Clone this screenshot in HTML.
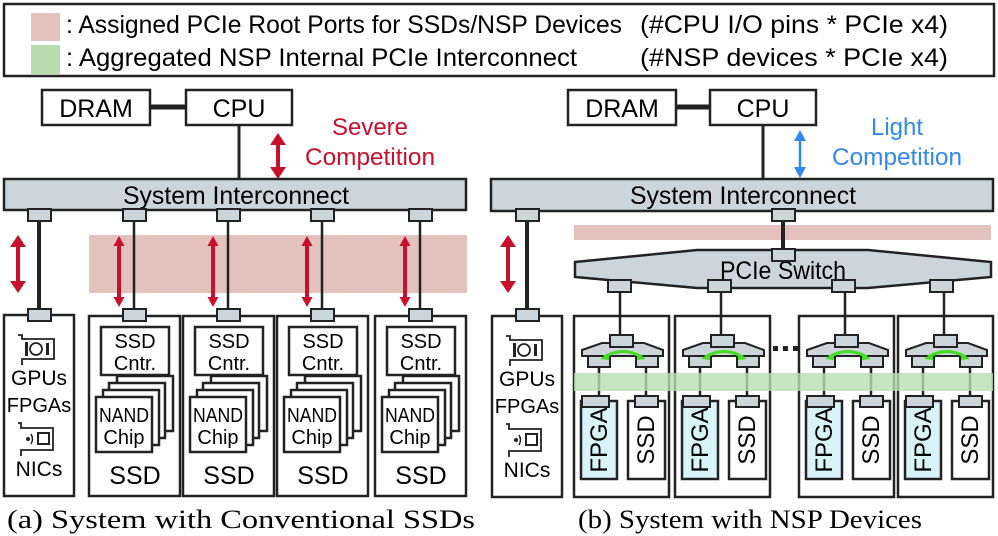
<!DOCTYPE html>
<html><head><meta charset="utf-8"><style>
html,body{margin:0;padding:0;background:#fff}
svg{display:block}
text{font-family:"Liberation Sans",sans-serif}
</style></head><body>
<svg width="998" height="536" viewBox="0 0 998 536" xmlns="http://www.w3.org/2000/svg">
<defs>
<g id="port"><rect x="0" y="0" width="23" height="12" fill="#ccd5da" stroke="#222" stroke-width="2"/></g>
<g id="ssd">
  <rect x="0" y="0" width="91" height="180" fill="#fff" stroke="#222" stroke-width="2.5"/>
  <rect x="12" y="11" width="68" height="48" fill="#fff" stroke="#222" stroke-width="2.5"/>
  <text x="46" y="32" font-size="20" text-anchor="middle">SSD</text>
  <text x="46" y="54" font-size="20" text-anchor="middle">Cntr.</text>
  <rect x="28" y="60" width="56" height="55" fill="#fff" stroke="#222" stroke-width="2.5"/>
  <rect x="20" y="67" width="56" height="55" fill="#fff" stroke="#222" stroke-width="2.5"/>
  <rect x="14" y="74" width="56" height="55" fill="#fff" stroke="#222" stroke-width="2.5"/>
  <rect x="7" y="81" width="56" height="55" fill="#fff" stroke="#222" stroke-width="2.5"/>
  <text x="35" y="106" font-size="20" text-anchor="middle" textLength="50" lengthAdjust="spacingAndGlyphs">NAND</text>
  <text x="35" y="128" font-size="20" text-anchor="middle">Chip</text>
  <text x="46" y="168" font-size="25" text-anchor="middle">SSD</text>
</g>
<g id="nsp">
  <rect x="0" y="0" width="95" height="181" fill="#fff" stroke="#222" stroke-width="2.5"/>
  <line x1="46" y1="-30" x2="46" y2="20" stroke="#222" stroke-width="2.5"/>
  <polygon points="8,34 28,27 70,27 89,34 89,40 8,40" fill="#ccd5da" stroke="#222" stroke-width="2"/>
  <rect x="36" y="19" width="23" height="12" fill="#ccd5da" stroke="#222" stroke-width="2"/>
  <line x1="25" y1="50" x2="25" y2="82" stroke="#222" stroke-width="2.5"/>
  <line x1="72" y1="50" x2="72" y2="82" stroke="#222" stroke-width="2.5"/>
  <rect x="14" y="40" width="22" height="11" fill="#ccd5da" stroke="#222" stroke-width="2"/>
  <rect x="62" y="40" width="22" height="11" fill="#ccd5da" stroke="#222" stroke-width="2"/>
  <path d="M30 41 Q49 30 68 41" fill="none" stroke="#44dd22" stroke-width="3"/>
  <polygon points="26,43 35,37 35,44" fill="#44dd22"/>
  <polygon points="72,43 63,37 63,44" fill="#44dd22"/>
  <rect x="7" y="85" width="36" height="78" fill="#d8f4f8" stroke="#222" stroke-width="2.5"/>
  <rect x="54" y="85" width="37" height="78" fill="#fff" stroke="#222" stroke-width="2.5"/>
  <rect x="8" y="80" width="27" height="11" fill="#ccd5da" stroke="#222" stroke-width="2"/>
  <rect x="61" y="80" width="23" height="11" fill="#ccd5da" stroke="#222" stroke-width="2"/>
  <text transform="translate(33,124) rotate(-90)" font-size="24" text-anchor="middle">FPGA</text>
  <text transform="translate(80,124) rotate(-90)" font-size="24" text-anchor="middle">SSD</text>
</g>
<g id="host">
  <rect x="0" y="0" width="70" height="181" fill="#fff" stroke="#222" stroke-width="2.5"/>
  <path d="M14 20 h4 v4 h32 v20 h-32 v6" fill="none" stroke="#222" stroke-width="1.8"/>
  <circle cx="32" cy="34" r="6" fill="none" stroke="#222" stroke-width="1.8"/>
  <rect x="21" y="27" width="3" height="14" fill="#222"/>
  <rect x="42" y="28" width="3" height="12" fill="#222"/>
  <text x="35" y="70" font-size="21" text-anchor="middle">GPUs</text>
  <text x="35" y="97" font-size="20" text-anchor="middle">FPGAs</text>
  <path d="M14 108 h3 v5 h32 v22 h-32 v6" fill="none" stroke="#222" stroke-width="1.8"/>
  <rect x="34" y="118" width="11" height="11" fill="none" stroke="#222" stroke-width="2"/>
  <circle cx="24" cy="124" r="2" fill="#222"/>
  <path d="M27 119 q3 5 0 10" fill="none" stroke="#222" stroke-width="1.5"/>
  <text x="35" y="161" font-size="21" text-anchor="middle">NICs</text>
</g>
</defs>

<rect x="4" y="4" width="990" height="72" fill="#fff" stroke="#222" stroke-width="2.5"/>
<rect x="31" y="13" width="29" height="28" fill="#e3c1bc"/>
<rect x="31" y="45" width="29" height="29" fill="#b9ddb0"/>
<text x="66" y="33" font-size="25" textLength="556" lengthAdjust="spacingAndGlyphs">: Assigned PCIe Root Ports for SSDs/NSP Devices</text>
<text x="640" y="33" font-size="25" textLength="308" lengthAdjust="spacingAndGlyphs">(#CPU I/O pins * PCIe x4)</text>
<text x="66" y="66" font-size="25" textLength="511" lengthAdjust="spacingAndGlyphs">: Aggregated NSP Internal PCIe Interconnect</text>
<text x="640" y="66" font-size="25" textLength="308" lengthAdjust="spacingAndGlyphs">(#NSP devices  * PCIe x4)</text>

<rect x="89" y="235" width="378" height="58" fill="#e3c1bc"/>
<line x1="150" y1="107" x2="186" y2="107" stroke="#222" stroke-width="5"/>
<rect x="42" y="90" width="108" height="35" fill="#fff" stroke="#222" stroke-width="2.5"/>
<rect x="186" y="90" width="106" height="35" fill="#fff" stroke="#222" stroke-width="2.5"/>
<text x="96" y="117" font-size="25" text-anchor="middle">DRAM</text>
<text x="239" y="117" font-size="25" text-anchor="middle">CPU</text>
<line x1="239" y1="125" x2="239" y2="180" stroke="#222" stroke-width="3"/>
<text x="370" y="135" font-size="24" fill="#c8102e" text-anchor="middle">Severe</text>
<text x="370" y="165" font-size="24" fill="#c8102e" text-anchor="middle" textLength="130" lengthAdjust="spacingAndGlyphs">Competition</text>
<line x1="278" y1="142" x2="278" y2="170" stroke="#c8102e" stroke-width="4"/>
<polygon points="270,145 286,145 278,133" fill="#c8102e"/>
<polygon points="270,167 286,167 278,179" fill="#c8102e"/>

<rect x="4" y="179" width="462" height="31" fill="#ccd5da" stroke="#222" stroke-width="2.5"/>
<text x="236" y="204" font-size="25" text-anchor="middle" textLength="226" lengthAdjust="spacingAndGlyphs">System Interconnect</text>

<line x1="39" y1="220" x2="39" y2="310" stroke="#222" stroke-width="4"/>
<line x1="18" y1="243" x2="18" y2="285" stroke="#c8102e" stroke-width="4"/>
<polygon points="10,247 26,247 18,235" fill="#c8102e"/>
<polygon points="10,281 26,281 18,293" fill="#c8102e"/>
<use href="#host" x="4" y="315"/>
<use href="#port" x="28" y="209"/><use href="#port" x="28" y="309"/>

<g stroke="#222" stroke-width="2.5">
<line x1="134" y1="220" x2="134" y2="310"/><line x1="228" y1="220" x2="228" y2="310"/>
<line x1="322" y1="220" x2="322" y2="310"/><line x1="420" y1="220" x2="420" y2="310"/>
</g>
<use href="#ssd" x="89" y="316"/><use href="#ssd" x="183" y="316"/>
<use href="#ssd" x="277" y="316"/><use href="#ssd" x="375" y="316"/>
<use href="#port" x="123" y="209"/><use href="#port" x="217" y="209"/><use href="#port" x="311" y="209"/><use href="#port" x="409" y="209"/>
<use href="#port" x="123" y="309"/><use href="#port" x="217" y="309"/><use href="#port" x="311" y="309"/><use href="#port" x="409" y="309"/>
<g fill="#c8102e">
<g transform="translate(119,0)"><rect x="-2" y="243" width="4" height="57"/><polygon points="-5.5,246 5.5,246 0,236"/><polygon points="-5.5,297 5.5,297 0,307"/></g>
<g transform="translate(213,0)"><rect x="-2" y="243" width="4" height="57"/><polygon points="-5.5,246 5.5,246 0,236"/><polygon points="-5.5,297 5.5,297 0,307"/></g>
<g transform="translate(307,0)"><rect x="-2" y="243" width="4" height="57"/><polygon points="-5.5,246 5.5,246 0,236"/><polygon points="-5.5,297 5.5,297 0,307"/></g>
<g transform="translate(405,0)"><rect x="-2" y="243" width="4" height="57"/><polygon points="-5.5,246 5.5,246 0,236"/><polygon points="-5.5,297 5.5,297 0,307"/></g>
</g>

<line x1="676" y1="107" x2="710" y2="107" stroke="#222" stroke-width="5"/>
<rect x="568" y="90" width="108" height="35" fill="#fff" stroke="#222" stroke-width="2.5"/>
<rect x="710" y="90" width="106" height="35" fill="#fff" stroke="#222" stroke-width="2.5"/>
<text x="622" y="117" font-size="25" text-anchor="middle">DRAM</text>
<text x="763" y="117" font-size="25" text-anchor="middle">CPU</text>
<line x1="763" y1="125" x2="763" y2="180" stroke="#222" stroke-width="3"/>
<text x="897" y="135" font-size="24" fill="#3388ee" text-anchor="middle">Light</text>
<text x="897" y="165" font-size="24" fill="#3388ee" text-anchor="middle" textLength="130" lengthAdjust="spacingAndGlyphs">Competition</text>
<line x1="800" y1="138" x2="800" y2="170" stroke="#3388ee" stroke-width="2.5"/>
<polygon points="794,141 806,141 800,130" fill="#3388ee"/>
<polygon points="794,167 806,167 800,178" fill="#3388ee"/>

<rect x="491" y="179" width="502" height="32" fill="#ccd5da" stroke="#222" stroke-width="2.5"/>
<text x="743" y="204" font-size="25" text-anchor="middle" textLength="226" lengthAdjust="spacingAndGlyphs">System Interconnect</text>

<rect x="574" y="225" width="417" height="15" fill="#e3c1bc"/>
<line x1="783" y1="220" x2="783" y2="252" stroke="#222" stroke-width="4"/>
<polygon points="575,262 697,250 868,250 991,262 991,277 868,288 697,288 575,277" fill="#ccd5da" stroke="#222" stroke-width="2.5"/>
<text x="783" y="279" font-size="25" text-anchor="middle" textLength="126" lengthAdjust="spacingAndGlyphs">PCIe Switch</text>
<use href="#port" x="772" y="209"/><use href="#port" x="772" y="249"/>

<line x1="527" y1="220" x2="527" y2="310" stroke="#222" stroke-width="4"/>
<line x1="508" y1="243" x2="508" y2="285" stroke="#c8102e" stroke-width="4"/>
<polygon points="500,247 516,247 508,235" fill="#c8102e"/>
<polygon points="500,281 516,281 508,293" fill="#c8102e"/>
<use href="#host" x="492" y="316"/>
<use href="#port" x="516" y="209"/><use href="#port" x="516" y="309"/>

<use href="#nsp" x="574" y="316"/><use href="#nsp" x="675" y="316"/>
<use href="#nsp" x="799" y="316"/><use href="#nsp" x="898" y="316"/>
<use href="#port" x="608" y="280"/><use href="#port" x="708" y="280"/><use href="#port" x="832" y="280"/><use href="#port" x="930" y="280"/>
<rect x="574" y="373" width="419" height="18" fill="#b9ddb0" opacity="0.8"/>
<g fill="#222"><rect x="773" y="346" width="5" height="5"/><rect x="783" y="346" width="5" height="5"/><rect x="793" y="346" width="5" height="5"/></g>

<text x="241" y="528" font-size="26" text-anchor="middle" textLength="468" lengthAdjust="spacingAndGlyphs" style="font-family:'Liberation Serif',serif">(a) System with Conventional SSDs</text>
<text x="750" y="528" font-size="26" text-anchor="middle" textLength="344" lengthAdjust="spacingAndGlyphs" style="font-family:'Liberation Serif',serif">(b) System with NSP Devices</text>
</svg>
</body></html>
